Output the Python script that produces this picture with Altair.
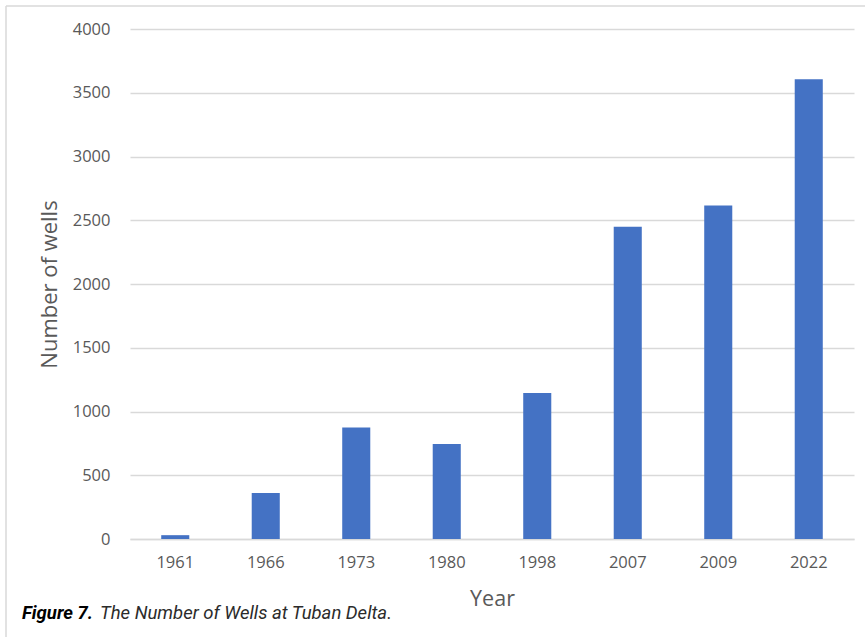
import altair as alt
import pandas as pd

# Number of wells recorded at Tuban Delta by survey year
years = ["1961", "1966", "1973", "1980", "1998", "2007", "2009", "2022"]
wells = [30, 360, 875, 745, 1145, 2450, 2615, 3605]

y_ticks = [0, 500, 1000, 1500, 2000, 2500, 3000, 3500, 4000]

caption_bold = "Figure 7."
caption_rest = "The Number of Wells at Tuban Delta."

df = pd.DataFrame({"Year": years, "Wells": wells})
one = pd.DataFrame({"k": [0]})

W, H = 724, 510
PAD_L, PAD_T = 130, 29
GREY = "#595959"

bars = alt.Chart(df).mark_bar(color="#4472C4").encode(
    x=alt.X(
        "Year:N",
        sort=years,
        title="Year",
        scale=alt.Scale(paddingInner=0.69, paddingOuter=0.345),
        axis=alt.Axis(
            labelAngle=0,
            labelFont="Open Sans",
            labelFontSize=16.5,
            labelColor=GREY,
            labelPadding=15,
            ticks=False,
            grid=False,
            domainColor="#d9d9d9",
            domainWidth=1.3,
            titleFont="Open Sans",
            titleFontSize=21.5,
            titleFontWeight="normal",
            titleColor=GREY,
            titlePadding=18,
        ),
    ),
    y=alt.Y(
        "Wells:Q",
        title="Number of wells",
        scale=alt.Scale(domain=[0, 4000], nice=False),
        axis=alt.Axis(
            values=y_ticks,
            format="d",
            labelFont="Open Sans",
            labelFontSize=16.5,
            labelColor=GREY,
            labelPadding=20,
            ticks=False,
            domain=False,
            gridColor="#d9d9d9",
            gridWidth=1.3,
            titleFont="Open Sans",
            titleFontSize=22,
            titleFontWeight="normal",
            titleColor=GREY,
            titlePadding=11,
        ),
    ),
)

# Outer frame: top and left edges
frame_top = alt.Chart(one).mark_rule(color="#d9d9d9", strokeWidth=1.5).encode(
    x=alt.value(6 - PAD_L), x2=alt.value(W + 20), y=alt.value(6 - PAD_T)
)
frame_left = alt.Chart(one).mark_rule(color="#d9d9d9", strokeWidth=1.5).encode(
    x=alt.value(6 - PAD_L), y=alt.value(6 - PAD_T), y2=alt.value(H + 120)
)

cap1 = alt.Chart(one).mark_text(
    text=caption_bold, font="Roboto", fontSize=18.5, fontWeight="bold",
    fontStyle="italic", align="left", baseline="alphabetic", color="#000000",
).encode(x=alt.value(22 - PAD_L), y=alt.value(619 - PAD_T))

cap2 = alt.Chart(one).mark_text(
    text=caption_rest, font="Roboto", fontSize=18.5, fontStyle="italic",
    align="left", baseline="alphabetic", color="#2b2b2b",
).encode(x=alt.value(100 - PAD_L), y=alt.value(619 - PAD_T))

chart = (
    alt.layer(bars, frame_top, frame_left, cap1, cap2)
    .properties(
        width=W,
        height=H,
        background="white",
        autosize=alt.AutoSizeParams(type="none"),
        padding={"left": PAD_L, "top": PAD_T, "right": 865 - PAD_L - W, "bottom": 637 - PAD_T - H},
    )
    .configure_view(strokeWidth=0, stroke="transparent")
)

chart.save("out.html", embed_options={"renderer": "svg", "actions": False})
